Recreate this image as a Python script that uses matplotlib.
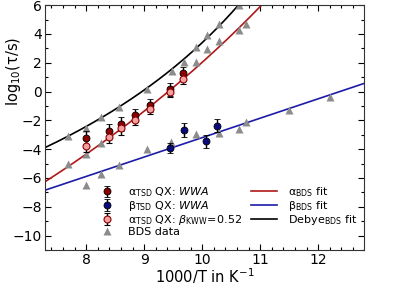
import numpy as np
import matplotlib.pyplot as plt
from matplotlib.ticker import MultipleLocator

# BDS data (gray triangles)
bds_x = [7.68, 8.0, 8.26, 8.57, 9.05, 9.48, 9.68, 9.9, 10.08, 10.29, 10.64,
         7.68, 8.0, 8.26, 9.9, 10.08, 10.29, 10.64, 10.75,
         8.0, 8.26, 8.57, 9.05, 9.47, 9.9, 10.29, 10.64, 10.75, 11.49, 12.2]
bds_y = [-3.1, -2.5, -1.8, -1.1, 0.17, 1.42, 2.06, 3.1, 3.9, 4.68, 6.0,
         -5.04, -4.35, -3.6, 2.06, 2.92, 3.52, 4.26, 4.66,
         -6.5, -5.7, -5.1, -4.0, -3.49, -2.96, -2.91, -2.63, -2.15, -1.29, -0.39]

# TSD points
alpha_x = [8.0, 8.40, 8.60, 8.84, 9.10, 9.44, 9.67]
alpha_wwa = [-3.22, -2.75, -2.24, -1.64, -0.94, 0.15, 1.26]
alpha_wwa_err = [0.5, 0.5, 0.5, 0.45, 0.45, 0.45, 0.45]
alpha_kww = [-3.77, -3.15, -2.56, -1.99, -1.22, -0.06, 0.84]
alpha_kww_err = [0.45, 0.45, 0.45, 0.35, 0.35, 0.35, 0.35]

beta_x = [9.44, 9.68, 10.07, 10.25]
beta_wwa = [-3.91, -2.68, -3.44, -2.38]
beta_wwa_err = [0.35, 0.5, 0.45, 0.45]

# fit parameters: VFT log10(tau) = A + B/(T - T0), Arrhenius log10(tau) = A + B*(1000/T)
alpha_fit = (-19.64, 1300.0, 40.0)
debye_fit = (-11.73, 605.0, 60.0)
beta_fit = (-16.67, 1.347)


def vft(x, p):
    A, B, T0 = p
    T = 1000.0 / x
    return A + B / (T - T0)


plt.rcParams['font.family'] = 'DejaVu Sans'
plt.rcParams['mathtext.fontset'] = 'dejavusans'

fig = plt.figure(figsize=(3.99, 2.85), dpi=100)
ax = fig.add_axes([0.113, 0.123, 0.799, 0.859])

xx = np.linspace(7.3, 12.8, 300)
l1, = ax.plot(xx, vft(xx, alpha_fit), color='#b01818', lw=1.2, label=r'α$_\mathrm{BDS}$ fit')
l2, = ax.plot(xx, beta_fit[0] + beta_fit[1] * xx, color='#1c1ca8', lw=1.2, label=r'β$_\mathrm{BDS}$ fit')
l3, = ax.plot(xx, vft(xx, debye_fit), color='black', lw=1.2, label=r'Debye$_\mathrm{BDS}$ fit')

tri, = ax.plot(bds_x, bds_y, '^', color='#8c8c8c', ms=5.5, mec='none', label='BDS data')

e1 = ax.errorbar(alpha_x, alpha_wwa, yerr=alpha_wwa_err, fmt='o', color='black', mfc='#8b0000',
                 mec='black', mew=0.6, ms=5, capsize=2.5, elinewidth=1, capthick=1,
                 label=r'α$_\mathrm{TSD}$ QX: $\mathit{WWA}$')
e2 = ax.errorbar(beta_x, beta_wwa, yerr=beta_wwa_err, fmt='o', color='black', mfc='#0a0a80',
                 mec='black', mew=0.6, ms=5, capsize=2.5, elinewidth=1, capthick=1,
                 label=r'β$_\mathrm{TSD}$ QX: $\mathit{WWA}$')
e3 = ax.errorbar(alpha_x, alpha_kww, yerr=alpha_kww_err, fmt='o', color='black', mfc='#f4a0a0',
                 mec='#8b0000', mew=0.8, ms=5, capsize=2.5, elinewidth=1, capthick=1,
                 label=r'α$_\mathrm{TSD}$ QX: $\mathit{\beta}_\mathrm{KWW}\!=\!\mathit{0.52}$')

ax.set_xlim(7.29, 12.79)
ax.set_ylim(-11, 6)
ax.xaxis.set_major_locator(MultipleLocator(1))
ax.xaxis.set_minor_locator(MultipleLocator(0.2))
ax.yaxis.set_major_locator(MultipleLocator(2))
ax.yaxis.set_minor_locator(MultipleLocator(1))
ax.tick_params(which='both', direction='in', top=True, right=True, labelsize=10, width=0.8, pad=2.5)
ax.tick_params(which='major', length=4)
ax.tick_params(which='minor', length=2.5)
for s in ax.spines.values():
    s.set_color('#333333')

ax.set_xlabel(r'1000/T in K$^{-1}$', fontsize=10.5)
ax.xaxis.set_label_coords(0.5, -0.065)
ax.set_ylabel(r'log$_{10}$(τ/s)', fontsize=10.5)
ax.yaxis.set_label_coords(-0.07, 0.73)

leg1 = ax.legend([e1, e2, e3, tri], [h.get_label() for h in (e1, e2, e3, tri)],
                 loc='upper left', bbox_to_anchor=(0.165, 0.265), frameon=False,
                 fontsize=8, handlelength=1.6, handletextpad=1.1, labelspacing=0.0,
                 borderpad=0, borderaxespad=0)
ax.add_artist(leg1)
ax.legend([l1, l2, l3], [l1.get_label(), l2.get_label(), l3.get_label()],
          loc='upper left', bbox_to_anchor=(0.645, 0.265), frameon=False,
          fontsize=8, handlelength=2.4, handletextpad=1.0, labelspacing=0.0,
          borderpad=0, borderaxespad=0)

fig.savefig('out.png', dpi=100)
